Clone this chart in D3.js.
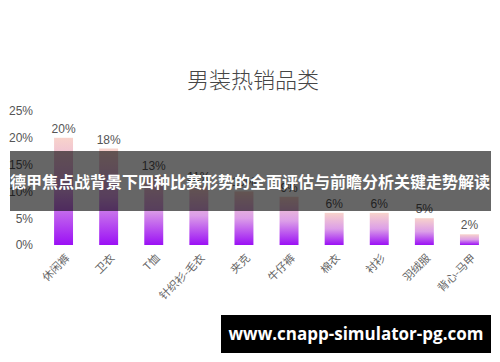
<!DOCTYPE html>
<html>
<head>
<meta charset="utf-8">
<script src="https://cdn.jsdelivr.net/npm/d3@7"></script>
<style>
  body { margin: 0; background: #fff; }
  svg { display: block; font-family: "Noto Sans CJK SC", "Noto Sans", sans-serif; }
</style>
</head>
<body>
<svg id="chart"></svg>
<script>
const categories = ['休闲裤', '卫衣', 'T恤', '针织衫-毛衣', '夹克', '牛仔裤', '棉衣', '衬衫', '羽绒服', '背心-马甲'];
const values = [20, 18, 13, 11, 10, 9, 6, 6, 5, 2];
const yTicks = [0, 5, 10, 15, 20, 25];
const title = '男装热销品类';
const bannerText = '德甲焦点战背景下四种比赛形势的全面评估与前瞻分析关键走势解读';
const siteText = 'www.cnapp-simulator-pg.com';

const W = 500, H = 362;
const svg = d3.select('#chart').attr('width', W).attr('height', H);

const x = d3.scaleBand().domain(categories).range([41, 492]).paddingInner(0.58).paddingOuter(0.29);
const y = d3.scaleLinear().domain([0, 25]).range([245, 111]);

// gradient for bars
const grad = svg.append('defs').append('linearGradient')
    .attr('id', 'barGrad')
    .attr('x1', 0).attr('y1', 0).attr('x2', 0).attr('y2', 1);
grad.append('stop').attr('offset', '0%').attr('stop-color', '#f8d3cb');
grad.append('stop').attr('offset', '50%').attr('stop-color', '#dc9ee8');
grad.append('stop').attr('offset', '100%').attr('stop-color', '#9b10f5');

// title
svg.append('text')
    .attr('x', 253).attr('y', 88)
    .attr('text-anchor', 'middle')
    .attr('fill', '#464646')
    .attr('font-size', 22)
    .attr('font-weight', 300)
    .text(title);

// y axis labels
const yAxis = d3.axisLeft(y).tickValues(yTicks).tickFormat(d => d + '%').tickSize(0).tickPadding(0);
const yg = svg.append('g').attr('transform', 'translate(33,0)').call(yAxis);
yg.select('.domain').remove();
yg.selectAll('text').attr('fill', '#555').attr('font-size', 12).attr('font-family', '"Liberation Sans", Arial, sans-serif');

// bars
svg.append('g').selectAll('rect')
    .data(values)
    .join('rect')
    .attr('x', (d, i) => x(categories[i]))
    .attr('y', d => y(d))
    .attr('width', x.bandwidth())
    .attr('height', d => y(0) - y(d))
    .attr('fill', 'url(#barGrad)');

// value labels
svg.append('g').selectAll('text')
    .data(values)
    .join('text')
    .attr('x', (d, i) => x(categories[i]) + x.bandwidth() / 2)
    .attr('y', d => y(d) - 5)
    .attr('text-anchor', 'middle')
    .attr('fill', '#555')
    .attr('font-size', 12)
    .attr('font-family', '"Liberation Sans", Arial, sans-serif')
    .text(d => d + '%');

// x labels, rotated
svg.append('g').selectAll('text')
    .data(categories)
    .join('text')
    .attr('transform', d => `translate(${x(d) + x.bandwidth() / 2 + 4},256) rotate(-45)`)
    .attr('text-anchor', 'end')
    .attr('dy', '0.35em')
    .attr('fill', '#666')
    .attr('font-size', 11)
    .text(d => d);

// banner overlay
svg.append('rect')
    .attr('x', 10).attr('y', 151).attr('width', 481).attr('height', 60)
    .attr('fill', 'rgba(0,0,0,0.6)');
svg.append('text')
    .attr('x', 250).attr('y', 182)
    .attr('dy', '0.35em')
    .attr('text-anchor', 'middle')
    .attr('fill', '#fff')
    .attr('font-size', 16)
    .attr('font-weight', 'bold')
    .text(bannerText);

// site box
svg.append('rect')
    .attr('x', 221).attr('y', 315).attr('width', 270).attr('height', 38)
    .attr('fill', '#000');
svg.append('text')
    .attr('x', 356).attr('y', 334)
    .attr('dy', '0.35em')
    .attr('text-anchor', 'middle')
    .attr('fill', '#fff')
    .attr('font-size', 17)
    .attr('font-weight', 'bold')
    .attr('font-family', '"Open Sans", "DejaVu Sans", sans-serif')
    .text(siteText);
</script>
</body>
</html>
